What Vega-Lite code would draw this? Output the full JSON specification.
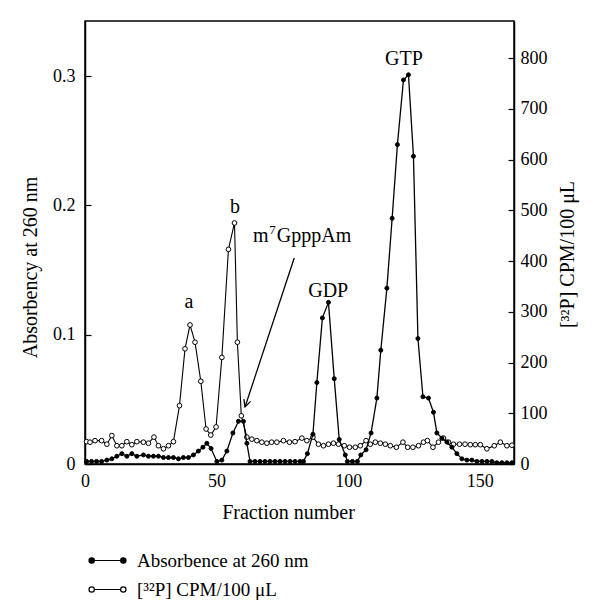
{
  "$schema": "https://vega.github.io/schema/vega-lite/v6.json",
  "width": 429,
  "height": 443,
  "autosize": "none",
  "padding": {"left": 85, "top": 21, "right": 86, "bottom": 152},
  "background": "white",
  "config": {
    "view": {"stroke": "black", "strokeWidth": 1.5},
    "font": "Liberation Serif",
    "axis": {
      "domainColor": "black", "domainWidth": 1.5, "tickColor": "black", "tickWidth": 1.2,
      "labelColor": "black", "titleColor": "black",
      "labelFont": "Liberation Serif", "titleFont": "Liberation Serif",
      "labelFontSize": 18, "titleFontSize": 20, "titleFontWeight": "normal", "grid": false
    }
  },
  "datasets": {
    "cpm": [
      {"f":0.6,"cpm":44},{"f":1.9,"cpm":43},{"f":3.8,"cpm":46},{"f":6.3,"cpm":46},{"f":8.3,"cpm":39},{"f":10.2,"cpm":56},{"f":12.1,"cpm":36},{"f":14.0,"cpm":36},{"f":15.9,"cpm":44},{"f":17.8,"cpm":38},{"f":19.7,"cpm":44},{"f":22.2,"cpm":43},{"f":24.1,"cpm":41},{"f":26.2,"cpm":53},{"f":27.9,"cpm":36},{"f":29.8,"cpm":30},{"f":31.7,"cpm":36},{"f":33.6,"cpm":44},{"f":35.9,"cpm":115},{"f":38.0,"cpm":227},{"f":39.9,"cpm":274},{"f":41.8,"cpm":240},{"f":44.0,"cpm":163},{"f":46.0,"cpm":69},{"f":47.8,"cpm":57},{"f":49.8,"cpm":73},{"f":52.0,"cpm":210},{"f":54.5,"cpm":423},{"f":56.8,"cpm":475},{"f":57.9,"cpm":240},{"f":59.4,"cpm":95},{"f":61.5,"cpm":53},{"f":63.4,"cpm":49},{"f":65.3,"cpm":46},{"f":67.2,"cpm":43},{"f":69.1,"cpm":41},{"f":70.9,"cpm":43},{"f":72.9,"cpm":43},{"f":75.4,"cpm":46},{"f":77.7,"cpm":43},{"f":79.8,"cpm":44},{"f":82.4,"cpm":51},{"f":84.3,"cpm":46},{"f":86.6,"cpm":53},{"f":88.7,"cpm":39},{"f":90.6,"cpm":36},{"f":92.5,"cpm":39},{"f":94.4,"cpm":41},{"f":96.3,"cpm":39},{"f":98.5,"cpm":36},{"f":100.5,"cpm":33},{"f":102.7,"cpm":33},{"f":104.6,"cpm":36},{"f":106.8,"cpm":46},{"f":108.4,"cpm":39},{"f":110.3,"cpm":43},{"f":112.2,"cpm":41},{"f":114.1,"cpm":39},{"f":116.0,"cpm":36},{"f":118.3,"cpm":33},{"f":120.8,"cpm":43},{"f":122.6,"cpm":33},{"f":124.6,"cpm":33},{"f":126.7,"cpm":36},{"f":128.6,"cpm":43},{"f":130.1,"cpm":46},{"f":132.2,"cpm":33},{"f":134.3,"cpm":43},{"f":136.2,"cpm":51},{"f":138.1,"cpm":43},{"f":140.0,"cpm":39},{"f":142.3,"cpm":39},{"f":144.4,"cpm":39},{"f":146.4,"cpm":38},{"f":148.3,"cpm":38},{"f":150.2,"cpm":38},{"f":152.7,"cpm":30},{"f":155.5,"cpm":36},{"f":157.8,"cpm":43},{"f":160.3,"cpm":36},{"f":162.2,"cpm":37}
    ],
    "abs": [
      {"f":0.6,"a":0.002},{"f":2.5,"a":0.002},{"f":4.4,"a":0.002},{"f":6.3,"a":0.002},{"f":8.3,"a":0.003},{"f":10.2,"a":0.004},{"f":12.1,"a":0.006},{"f":14.0,"a":0.008},{"f":15.9,"a":0.006},{"f":17.8,"a":0.008},{"f":19.7,"a":0.006},{"f":22.2,"a":0.007},{"f":24.1,"a":0.006},{"f":26.0,"a":0.006},{"f":27.9,"a":0.006},{"f":29.8,"a":0.005},{"f":31.7,"a":0.005},{"f":33.6,"a":0.005},{"f":35.5,"a":0.004},{"f":37.4,"a":0.005},{"f":39.3,"a":0.005},{"f":41.2,"a":0.007},{"f":43.1,"a":0.010},{"f":44.8,"a":0.013},{"f":46.3,"a":0.016},{"f":47.9,"a":0.012},{"f":50.1,"a":0.002},{"f":52.0,"a":0.003},{"f":53.9,"a":0.010},{"f":56.2,"a":0.024},{"f":58.3,"a":0.033},{"f":60.2,"a":0.033},{"f":61.5,"a":0.016},{"f":62.7,"a":0.002},{"f":64.6,"a":0.002},{"f":66.5,"a":0.002},{"f":68.4,"a":0.002},{"f":70.3,"a":0.002},{"f":72.2,"a":0.002},{"f":74.1,"a":0.002},{"f":76.0,"a":0.002},{"f":77.9,"a":0.002},{"f":79.8,"a":0.002},{"f":81.7,"a":0.002},{"f":83.0,"a":0.002},{"f":84.5,"a":0.008},{"f":86.6,"a":0.023},{"f":88.1,"a":0.063},{"f":90.2,"a":0.113},{"f":92.5,"a":0.125},{"f":94.7,"a":0.066},{"f":96.6,"a":0.019},{"f":98.9,"a":0.007},{"f":99.7,"a":0.002},{"f":101.6,"a":0.002},{"f":103.5,"a":0.002},{"f":104.8,"a":0.007},{"f":106.8,"a":0.011},{"f":108.7,"a":0.024},{"f":110.9,"a":0.051},{"f":112.4,"a":0.088},{"f":114.7,"a":0.136},{"f":116.7,"a":0.19},{"f":118.7,"a":0.247},{"f":121.0,"a":0.297},{"f":122.9,"a":0.301},{"f":124.8,"a":0.238},{"f":126.5,"a":0.097},{"f":128.4,"a":0.052},{"f":130.5,"a":0.051},{"f":132.4,"a":0.040},{"f":133.7,"a":0.024},{"f":135.6,"a":0.020},{"f":137.5,"a":0.017},{"f":139.4,"a":0.013},{"f":141.3,"a":0.008},{"f":143.2,"a":0.004},{"f":145.1,"a":0.003},{"f":147.0,"a":0.003},{"f":148.9,"a":0.002},{"f":150.8,"a":0.002},{"f":152.7,"a":0.002},{"f":154.6,"a":0.002},{"f":156.5,"a":0.001},{"f":158.4,"a":0.001},{"f":160.3,"a":0.001},{"f":162.2,"a":0.001}
    ],
    "labels": [
      {"f":39.5,"a":0.1206,"label":"a"},
      {"f":57.0,"a":0.194,"label":"b"},
      {"f":92.4,"a":0.129,"label":"GDP"},
      {"f":121.2,"a":0.3086,"label":"GTP"}
    ],
    "mlabel": [
      {"f":63.8,"a":0.1717,"label":"m"},
      {"f":72.9,"a":0.1717,"label":"GpppAm"}
    ],
    "suplabel": [
      {"f":70.0,"a":0.1775,"label":"7"}
    ],
    "arrow": [
      {"f":79.5,"a":0.1593,"f2":60.8,"a2":0.0441}
    ]
  },
  "layer": [
    {
      "data": {"name": "cpm"},
      "encoding": {
        "x": {"field": "f", "type": "quantitative", "scale": {"domain": [0, 163], "nice": false},
              "axis": {"values": [0, 50, 100, 150], "ticks": false, "labelFlush": false, "labelPadding": 8, "title": "Fraction number", "titlePadding": 12, "titleX": 203}},
        "y": {"field": "cpm", "type": "quantitative", "scale": {"domain": [0, 873], "nice": false},
              "axis": {"orient": "right", "values": [0,100,200,300,400,500,600,700,800], "tickSize": -6, "labelPadding": 12, "title": "[³²P] CPM/100 μL", "titleAngle": -90, "titlePadding": 30, "titleY": 233}}
      },
      "layer": [
        {"mark": {"type": "line", "color": "black", "strokeWidth": 1.1}},
        {"mark": {"type": "point", "shape": "circle", "filled": true, "stroke": "black", "strokeWidth": 1, "size": 22, "opacity": 1},
         "encoding": {"fill": {"datum": "[³²P] CPM/100 μL", "type": "nominal",
           "scale": {"domain": ["Absorbence at 260 nm", "[³²P] CPM/100 μL"], "range": ["black", "white"]},
           "legend": {"orient": "none", "legendX": 6, "legendY": 523, "title": null, "padding": 0,
             "labelFont": "Liberation Serif", "labelFontSize": 19, "labelColor": "black", "labelOffset": 13, "labelLimit": 400,
             "symbolType": "M -1.17 0 A 0.17 0.17 0 1 0 -0.83 0 A 0.17 0.17 0 1 0 -1.17 0 Z M -0.83 0 L 0.83 0 M 0.83 0 A 0.17 0.17 0 1 0 1.17 0 A 0.17 0.17 0 1 0 0.83 0 Z",
             "symbolSize": 1000, "symbolStrokeColor": "black", "symbolStrokeWidth": 1.2, "rowPadding": 2}}}}
      ]
    },
    {
      "layer": [
        {"data": {"name": "abs"}, "mark": {"type": "line", "color": "black", "strokeWidth": 1.3},
         "encoding": {
           "x": {"field": "f", "type": "quantitative"},
           "y": {"field": "a", "type": "quantitative", "scale": {"domain": [0, 0.3426], "nice": false},
                 "axis": {"orient": "left", "values": [0, 0.1, 0.2, 0.3], "tickSize": -6, "labelPadding": 16,
                          "labelExpr": "datum.value == 0 ? '0' : format(datum.value, '.1f')",
                          "title": "Absorbency at 260 nm", "titlePadding": 12, "titleY": 246}}}},
        {"data": {"name": "abs"}, "mark": {"type": "point", "shape": "circle", "filled": true, "stroke": "black", "strokeWidth": 1, "size": 16, "opacity": 1},
         "encoding": {
           "x": {"field": "f", "type": "quantitative"},
           "y": {"field": "a", "type": "quantitative"},
           "fill": {"datum": "Absorbence at 260 nm", "type": "nominal"}}},
        {"data": {"name": "labels"}, "mark": {"type": "text", "font": "Liberation Serif", "fontSize": 20, "color": "black", "baseline": "alphabetic", "align": "center"},
         "encoding": {
           "x": {"field": "f", "type": "quantitative"},
           "y": {"field": "a", "type": "quantitative"},
           "text": {"field": "label"}}},
        {"data": {"name": "mlabel"}, "mark": {"type": "text", "font": "Liberation Serif", "fontSize": 20, "color": "black", "baseline": "alphabetic", "align": "left"},
         "encoding": {
           "x": {"field": "f", "type": "quantitative"},
           "y": {"field": "a", "type": "quantitative"},
           "text": {"field": "label"}}},
        {"data": {"name": "suplabel"}, "mark": {"type": "text", "font": "Liberation Serif", "fontSize": 13, "color": "black", "baseline": "alphabetic", "align": "left"},
         "encoding": {
           "x": {"field": "f", "type": "quantitative"},
           "y": {"field": "a", "type": "quantitative"},
           "text": {"field": "label"}}},
        {"data": {"name": "arrow"}, "mark": {"type": "rule", "color": "black", "strokeWidth": 1.3},
         "encoding": {
           "x": {"field": "f", "type": "quantitative"},
           "y": {"field": "a", "type": "quantitative"},
           "x2": {"field": "f2"}, "y2": {"field": "a2"}}},
        {"data": {"name": "arrow"}, "mark": {"type": "point", "shape": "M -0.5 1 L 0 0 L 0.5 1", "filled": false, "stroke": "black", "strokeWidth": 1.3, "size": 200, "angle": 198, "opacity": 1},
         "encoding": {
           "x": {"field": "f2", "type": "quantitative"},
           "y": {"field": "a2", "type": "quantitative"}}}
      ]
    }
  ],
  "resolve": {"scale": {"y": "independent"}}
}
